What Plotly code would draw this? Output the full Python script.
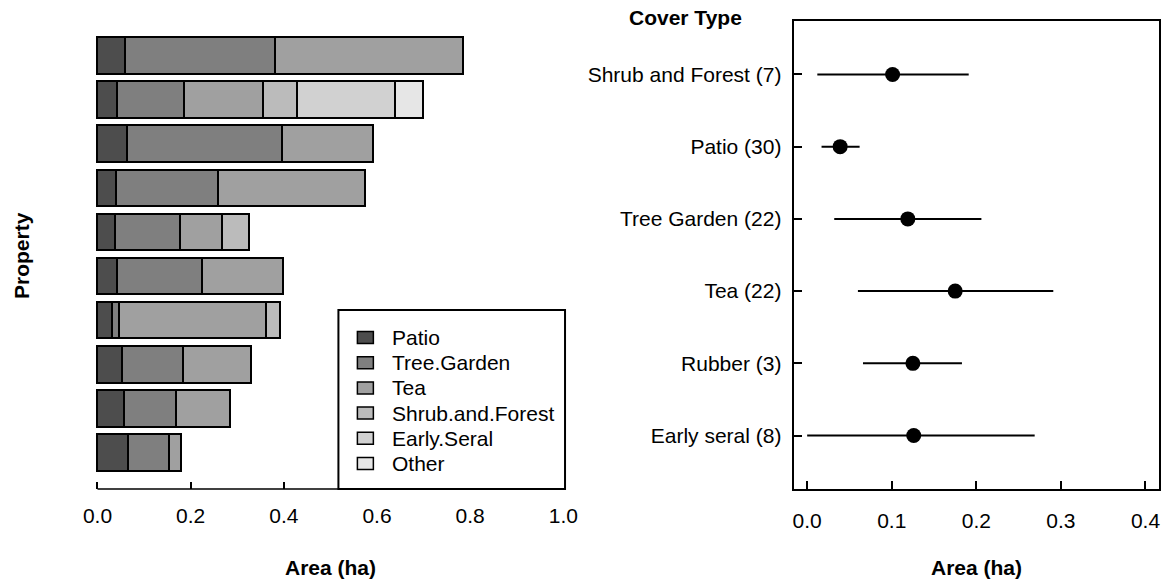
import plotly.graph_objects as go

# ---- data: left panel (property composition, top bar first) ----
properties = ["1", "2", "3", "4", "5", "6", "7", "8", "9", "10"]
cover_types = ["Patio", "Tree.Garden", "Tea", "Shrub.and.Forest", "Early.Seral", "Other"]
patio = [0.061, 0.043, 0.066, 0.041, 0.039, 0.043, 0.033, 0.054, 0.059, 0.067]
tree_garden = [0.321, 0.144, 0.332, 0.219, 0.141, 0.183, 0.014, 0.132, 0.112, 0.089]
tea = [0.405, 0.170, 0.196, 0.317, 0.090, 0.174, 0.316, 0.145, 0.116, 0.025]
shrub_forest = [None, 0.074, None, None, 0.058, None, 0.030, None, None, None]
early_seral = [None, 0.210, None, None, None, None, None, None, None, None]
other = [None, 0.059, None, None, None, None, None, None, None, None]
grays = ["#4D4D4D", "#7F7F7F", "#A0A0A0", "#BBBBBB", "#D1D1D1", "#E6E6E6"]

# ---- data: right panel (mean area per patch with interval, bottom first) ----
cover_labels = ["Early seral (8)", "Rubber (3)", "Tea (22)", "Tree Garden (22)",
                "Patio (30)", "Shrub and Forest (7)"]
mean_area = [0.126, 0.125, 0.175, 0.119, 0.039, 0.101]
lower = [0.000, 0.066, 0.060, 0.032, 0.017, 0.012]
upper = [0.269, 0.183, 0.291, 0.206, 0.062, 0.191]

W, H = 1165, 580
FONT = "Liberation Sans, Arial, Helvetica, sans-serif"
FS = 21


def px(x):
    return x / W


def py(y):
    return 1 - y / H


fig = go.Figure()

series = [patio, tree_garden, tea, shrub_forest, early_seral, other]
for name, vals, col in zip(cover_types, series, grays):
    fig.add_trace(go.Bar(
        y=properties, x=vals, orientation="h", name=name,
        marker=dict(color=col, line=dict(color="black", width=1.8)),
        width=1 / 1.2, xaxis="x", yaxis="y", showlegend=False,
    ))

fig.add_trace(go.Scatter(
    x=mean_area, y=cover_labels, mode="markers",
    marker=dict(size=15, color="black"),
    error_x=dict(type="data", symmetric=False,
                 array=[u - m for u, m in zip(upper, mean_area)],
                 arrayminus=[m - l for m, l in zip(mean_area, lower)],
                 thickness=2, width=0, color="black"),
    xaxis="x2", yaxis="y2", showlegend=False,
))

ydom = [py(489), py(21)]
tickfont = dict(family=FONT, size=FS, color="black")

fig.update_layout(
    width=W, height=H,
    margin=dict(l=0, r=0, t=0, b=0),
    paper_bgcolor="white", plot_bgcolor="white",
    barmode="stack", bargap=0,
    font=dict(family=FONT, size=FS, color="black"),
    xaxis=dict(domain=[px(78.0), px(582.0)], range=[-0.04, 1.04],
               tickvals=[0, 0.2, 0.4, 0.6, 0.8, 1.0], tickformat=".1f",
               ticks="inside", ticklen=7, tickwidth=1.5, tickcolor="black",
               showline=False, showgrid=False, zeroline=False,
               tickfont=tickfont, ticklabelstandoff=12),
    yaxis=dict(domain=ydom, range=[9.81, -0.81], showticklabels=False,
               showgrid=False, zeroline=False, showline=False, ticks=""),
    xaxis2=dict(domain=[px(794), px(1160)], range=[-0.016, 0.416],
                tickvals=[0, 0.1, 0.2, 0.3, 0.4], tickformat=".1f",
                ticks="inside", ticklen=8, tickwidth=1.5, tickcolor="black",
                showline=True, linewidth=2, linecolor="black", mirror=True,
                showgrid=False, zeroline=False, anchor="y2",
                tickfont=tickfont, ticklabelstandoff=12),
    yaxis2=dict(domain=ydom, range=[-0.74, 5.74], type="category",
                categoryorder="array", categoryarray=cover_labels,
                ticks="inside", ticklen=8, tickwidth=1.5, tickcolor="black",
                showline=True, linewidth=2, linecolor="black", mirror=True,
                showgrid=False, zeroline=False, anchor="x2",
                tickfont=tickfont, ticklabelstandoff=6),
)

shapes = [
    # left x axis line spans first to last tick
    dict(type="line", xref="x", yref="paper", x0=0, x1=1, y0=ydom[0], y1=ydom[0],
         line=dict(color="black", width=1.5)),
    # legend box
    dict(type="rect", xref="paper", yref="paper", x0=px(338), x1=px(565),
         y0=py(489), y1=py(310), fillcolor="white", line=dict(color="black", width=2)),
]
annotations = [
    dict(text="<b>Area (ha)</b>", x=px(330), y=py(567), xref="paper", yref="paper",
         showarrow=False, xanchor="center", yanchor="middle", font=dict(size=FS)),
    dict(text="<b>Area (ha)</b>", x=px(977), y=py(567), xref="paper", yref="paper",
         showarrow=False, xanchor="center", yanchor="middle", font=dict(size=FS)),
    dict(text="<b>Property</b>", x=px(20), y=py(255), xref="paper", yref="paper",
         showarrow=False, textangle=-90, xanchor="center", yanchor="middle",
         font=dict(size=FS)),
    dict(text="<b>Cover Type</b>", x=px(686), y=py(18), xref="paper", yref="paper",
         showarrow=False, xanchor="center", yanchor="middle", font=dict(size=FS)),
]

# legend entries
for i, (name, col) in enumerate(zip(cover_types, grays)):
    yc = 337.5 + i * 25.2
    shapes.append(dict(type="rect", xref="paper", yref="paper",
                       x0=px(357), x1=px(373), y0=py(yc + 6), y1=py(yc - 6),
                       fillcolor=col, line=dict(color="black", width=1.5)))
    annotations.append(dict(text=name, x=px(390), y=py(yc), xref="paper", yref="paper",
                            showarrow=False, xanchor="left", yanchor="middle",
                            font=dict(size=FS)))

fig.update_layout(shapes=shapes, annotations=annotations)

# drop the page's default body margin so the figure sits at the window origin
fig.write_html("out.html", config={"displayModeBar": False},
               post_script="document.body.style.margin='0px';")
